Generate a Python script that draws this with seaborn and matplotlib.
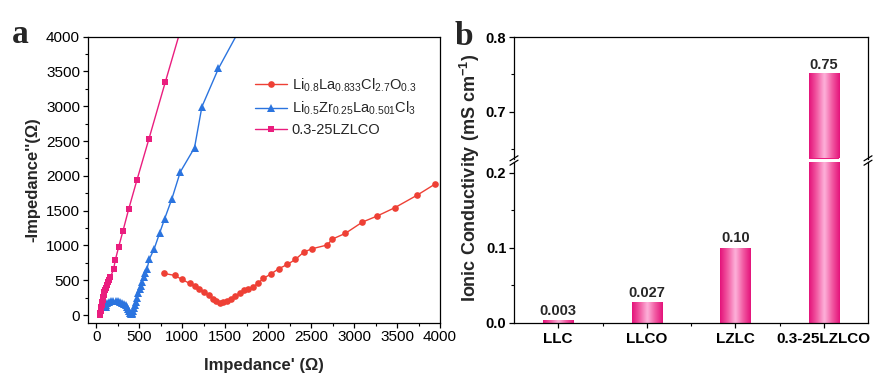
import numpy as np
import pandas as pd
import matplotlib
matplotlib.use("Agg")
import matplotlib.pyplot as plt
from matplotlib.colors import LinearSegmentedColormap
from matplotlib.ticker import MultipleLocator, FormatStrFormatter
import seaborn as sns

# ---------------- data ----------------
llco_x = [783, 911, 996, 1085, 1143, 1201, 1256, 1306, 1357, 1395, 1434, 1473, 1520, 1566,
          1616, 1667, 1721, 1771, 1829, 1887, 1945, 2031, 2124, 2225, 2318, 2415, 2512,
          2686, 2748, 2899, 3097, 3267, 3473, 3736, 3942]
llco_y = [599, 570, 513, 455, 417, 378, 330, 283, 234, 201, 168, 186, 201, 234,
          273, 311, 359, 380, 407, 464, 527, 589, 666, 728, 800, 905, 953,
          1006, 1092, 1174, 1336, 1422, 1542, 1724, 1882]

lzlc_x = [110, 118, 130, 150, 175, 200, 225, 250, 275, 300, 320, 340, 355, 370, 380, 390,
          400, 410, 420, 430, 440, 450, 460, 475, 490, 505, 520, 535, 550, 570, 590,
          616, 674, 736, 794, 880, 977, 1143, 1229, 1422, 1680]
lzlc_y = [120, 150, 170, 185, 195, 200, 200, 195, 190, 180, 165, 145, 120, 90, 60, 35,
          20, 15, 30, 60, 100, 140, 190, 250, 310, 370, 420, 480, 540, 600, 660,
          800, 953, 1174, 1379, 1671, 2055, 2404, 2993, 3544, 4130]

lzlco_x = [45, 48, 52, 56, 60, 65, 70, 76, 82, 88, 95, 102, 110, 120, 132, 145,
           163, 201, 221, 259, 310, 376, 473, 612, 802, 1000]
lzlco_y = [0, 25, 55, 85, 115, 150, 185, 220, 255, 290, 325, 360, 395, 430, 470, 505,
           541, 656, 790, 972, 1207, 1518, 1940, 2529, 3343, 4180]

labels_a = [r"Li$_{0.8}$La$_{0.833}$Cl$_{2.7}$O$_{0.3}$",
            r"Li$_{0.5}$Zr$_{0.25}$La$_{0.501}$Cl$_{3}$",
            "0.3-25LZLCO"]

categories = ["LLC", "LLCO", "LZLC", "0.3-25LZLCO"]
conductivity = [0.003, 0.027, 0.10, 0.75]
value_text = ["0.003", "0.027", "0.10", "0.75"]

# ---------------- style ----------------
sns.set_style("ticks")
plt.rcParams["font.family"] = ["Liberation Sans", "DejaVu Sans"]
plt.rcParams["mathtext.fontset"] = "custom"
plt.rcParams["mathtext.rm"] = "Liberation Sans"
plt.rcParams["mathtext.it"] = "Liberation Sans:italic"
plt.rcParams["mathtext.bf"] = "Liberation Sans:bold"
plt.rcParams["mathtext.default"] = "regular"
plt.rcParams["axes.linewidth"] = 0.9
plt.rcParams["axes.edgecolor"] = "black"
plt.rcParams["xtick.color"] = "black"
plt.rcParams["ytick.color"] = "black"

W, H = 873, 378
fig = plt.figure(figsize=(W / 100, H / 100), dpi=100)

def fr(x0, y0, x1, y1):
    return [x0 / W, 1 - y1 / H, (x1 - x0) / W, (y1 - y0) / H]

red = "#EE4035"
blue = "#2B74DF"
pink = "#EA1D7E"

# ---------------- panel a ----------------
ax = fig.add_axes(fr(87.7, 36.7, 440, 322.7))
sns.lineplot(x=llco_x, y=llco_y, ax=ax, sort=False, estimator=None, color=red,
             marker="o", markersize=4.8, markeredgewidth=0, linewidth=1.0, label=labels_a[0])
sns.lineplot(x=lzlc_x, y=lzlc_y, ax=ax, sort=False, estimator=None, color=blue,
             marker="^", markersize=5.5, markeredgewidth=0, linewidth=1.0, label=labels_a[1])
sns.lineplot(x=lzlco_x, y=lzlco_y, ax=ax, sort=False, estimator=None, color=pink,
             marker="s", markersize=4.6, markeredgewidth=0, linewidth=1.0, label=labels_a[2])
ax.set_xlim(-100, 4000)
ax.set_ylim(-110, 4000)
ax.xaxis.set_major_locator(MultipleLocator(500))
ax.xaxis.set_minor_locator(MultipleLocator(250))
ax.yaxis.set_major_locator(MultipleLocator(500))
ax.yaxis.set_minor_locator(MultipleLocator(250))
ax.tick_params(which="major", direction="out", length=3.5, width=0.9, labelsize=11, pad=2)
ax.tick_params(which="minor", direction="out", length=2, width=0.8)
for s in ax.spines.values():
    s.set_visible(True)
ax.set_xlabel("Impedance' (Ω)", fontsize=12, fontweight="bold", labelpad=10)
ax.set_ylabel("-Impedance''(Ω)", fontsize=12, fontweight="bold", labelpad=4)
leg = ax.legend(loc="upper left", bbox_to_anchor=(0.475, 0.862), frameon=False,
                fontsize=10.5, handlelength=2.2, handletextpad=0.3, labelspacing=0.42,
                borderpad=0, borderaxespad=0)
fig.text(12 / W, 1 - 43 / H, "a", fontsize=24, fontweight="bold",
         family="Liberation Serif", va="baseline", ha="left")

# ---------------- panel b (broken axis) ----------------
df = pd.DataFrame({"cat": categories, "val": conductivity})
ax_lo = fig.add_axes(fr(514, 162.5, 868, 322.7))
ax_hi = fig.add_axes(fr(514, 37.3, 868, 158.5))
lims = {ax_lo: (0, 0.214), ax_hi: (0.637, 0.8)}

cmap = LinearSegmentedColormap.from_list("pk", ["#E4127A", "#F25BA3", "#FDB3DA", "#F25BA3", "#E4127A"])
grad = np.linspace(0, 1, 128).reshape(1, -1)

for a in (ax_lo, ax_hi):
    sns.barplot(data=df, x="cat", y="val", ax=a, color=pink, width=0.34,
                saturation=1, linewidth=0)
    lo, hi = lims[a]
    for p in list(a.patches):
        x0, y0 = p.get_x(), p.get_y()
        w, h = p.get_width(), p.get_height()
        yb, yt = max(y0, lo), min(y0 + h, hi)
        if yt <= yb:
            continue
        a.imshow(grad, extent=[x0, x0 + w, yb, yt], aspect="auto",
                 cmap=cmap, zorder=p.get_zorder() + 0.1, interpolation="bicubic")
    a.set_xlim(-0.5, 3.5)
    a.set_ylim(lo, hi)
    a.set_xlabel("")
    a.set_ylabel("")
    for s in a.spines.values():
        s.set_visible(True)
        s.set_linewidth(0.9)

ax_lo.spines["top"].set_visible(False)
ax_hi.spines["bottom"].set_visible(False)
ax_hi.tick_params(axis="x", which="both", bottom=False, labelbottom=False)

for a in (ax_lo, ax_hi):
    a.yaxis.set_major_locator(MultipleLocator(0.1))
    a.yaxis.set_minor_locator(MultipleLocator(0.05))
    a.yaxis.set_major_formatter(FormatStrFormatter("%.1f"))
    a.tick_params(which="major", direction="out", length=3.5, width=0.9, pad=2)
    a.tick_params(which="minor", direction="out", length=2, width=0.8)
    a.tick_params(axis="y", labelsize=10.5)
ax_lo.set_xticks(range(len(categories)))
ax_lo.set_xticks([0.5, 1.5, 2.5], minor=True)
ax_lo.set_xticklabels(categories)
ax_lo.tick_params(axis="x", labelsize=11, pad=3)
for t in ax_lo.get_xticklabels():
    t.set_fontweight("bold")
for t in ax_lo.get_yticklabels() + ax_hi.get_yticklabels():
    t.set_fontweight("bold")

for i, (v, s) in enumerate(zip(conductivity, value_text)):
    target = ax_hi if v > 0.5 else ax_lo
    target.annotate(s, (i, v), xytext=(0, 2), textcoords="offset points",
                    ha="center", va="bottom", fontsize=10.5, fontweight="bold")

fig.text(470 / W, 1 - 178 / H, "Ionic Conductivity (mS cm$^{-1}$)", rotation=90,
         fontsize=13, fontweight="bold", ha="center", va="center")
fig.text(455 / W, 1 - 45 / H, "b", fontsize=24, fontweight="bold",
         family="Liberation Serif", va="baseline", ha="left")

# break marks
for xp in (514, 868):
    for dy in (-2.2, 2.2):
        yc = 160.5 + dy
        fig.add_artist(plt.Line2D([(xp - 4) / W, (xp + 4) / W],
                                  [1 - (yc + 2.5) / H, 1 - (yc - 2.5) / H],
                                  color="black", linewidth=0.9))

fig.savefig("out.png", dpi=100)
